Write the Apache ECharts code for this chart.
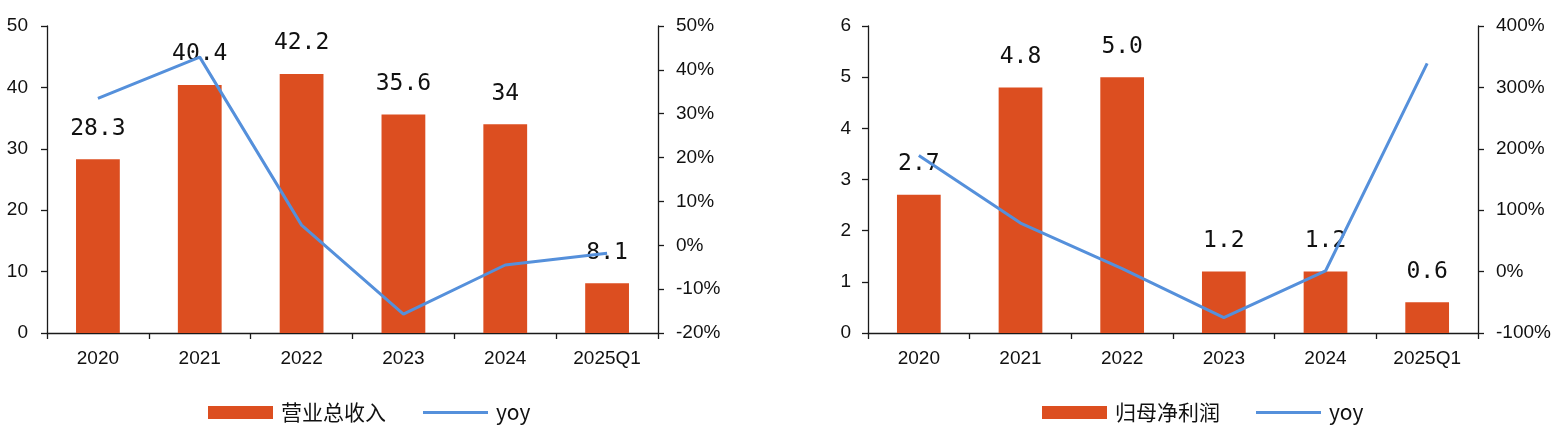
<!DOCTYPE html>
<html>
<head>
<meta charset="utf-8">
<script src="https://cdn.jsdelivr.net/npm/echarts@6/dist/echarts.min.js"></script>
<style>
html,body{margin:0;padding:0;background:#fff;}
#c{width:1556px;height:434px;}
</style>
</head>
<body>
<div id="c"></div>
<script>
const categories = ['2020', '2021', '2022', '2023', '2024', '2025Q1'];
const revenue = [28.3, 40.4, 42.2, 35.6, 34, 8.1];
const revenueYoy = [33.5, 42.9, 4.6, -15.7, -4.5, -1.8];
const netProfit = [2.7, 4.8, 5.0, 1.2, 1.2, 0.6];
const netProfitYoy = [189, 79, 5, -75, 1, 339];
const revenueName = '营业总收入';
const profitName = '归母净利润';
const yoyName = 'yoy';

const BAR = '#DC4E20';
const LINE = '#5590DB';
const AX = '#1a1a1a';
const FONT = '"Liberation Sans", Arial, sans-serif';
const LINE_ICON = 'path://M0,0H65V3H0Z';

function xAxisCfg(gridIndex) {
  return {
    type: 'category', gridIndex, data: categories,
    axisLine: { show: true, onZero: false, lineStyle: { color: AX, width: 1.3 } },
    axisTick: { show: true, length: 6, lineStyle: { color: AX, width: 1.3 } },
    axisLabel: { color: '#111', fontSize: 19, fontFamily: FONT, margin: 16 }
  };
}
function yAxisCfg(gridIndex, position, min, max, interval, fmt, margin) {
  return {
    type: 'value', gridIndex, position, min, max, interval,
    splitLine: { show: false },
    axisLine: { show: true, onZero: false, lineStyle: { color: AX, width: 1.3 } },
    axisTick: { show: true, length: 6, lineStyle: { color: AX, width: 1.3 } },
    axisLabel: { color: '#111', fontSize: 19, fontFamily: FONT, margin, formatter: fmt }
  };
}
const labelStyle = {
  show: true, position: 'top', distance: 19, color: '#111',
  fontSize: 23, fontFamily: '"DejaVu Sans Mono", monospace'
};
const legendText = { fontSize: 21, color: '#111', fontFamily: '"Noto Sans CJK SC", sans-serif', padding: [0, 0, 0, 3] };

const option = {
  animation: false,
  backgroundColor: '#fff',
  grid: [
    { left: 47, right: 898, top: 26, bottom: 101 },
    { left: 868, right: 78, top: 26, bottom: 101 }
  ],
  xAxis: [xAxisCfg(0), xAxisCfg(1)],
  yAxis: [
    yAxisCfg(0, 'left', 0, 50, 10, '{value}', 19),
    yAxisCfg(0, 'right', -20, 50, 10, '{value}%', 18),
    yAxisCfg(1, 'left', 0, 6, 1, '{value}', 17),
    yAxisCfg(1, 'right', -100, 400, 100, '{value}%', 18)
  ],
  legend: [
    {
      left: 203, top: 397, itemWidth: 65, itemHeight: 13, itemGap: 37,
      textStyle: legendText,
      data: [{ name: revenueName, icon: 'rect' }, { name: yoyName, icon: LINE_ICON }]
    },
    {
      left: 1037, top: 397, itemWidth: 65, itemHeight: 13, itemGap: 36,
      textStyle: legendText,
      data: [{ name: profitName, icon: 'rect' }, { name: yoyName, icon: LINE_ICON }]
    }
  ],
  series: [
    {
      name: revenueName, type: 'bar', xAxisIndex: 0, yAxisIndex: 0,
      data: revenue, barWidth: '43%', itemStyle: { color: BAR },
      label: Object.assign({}, labelStyle, { formatter: p => String(p.value) })
    },
    {
      name: yoyName, type: 'line', xAxisIndex: 0, yAxisIndex: 1,
      data: revenueYoy, symbol: 'none', z: 5,
      lineStyle: { color: LINE, width: 3 }, itemStyle: { color: LINE }
    },
    {
      name: profitName, type: 'bar', xAxisIndex: 1, yAxisIndex: 2,
      data: netProfit, barWidth: '43%', itemStyle: { color: BAR },
      label: Object.assign({}, labelStyle, { formatter: p => p.value.toFixed(1) })
    },
    {
      name: yoyName, type: 'line', xAxisIndex: 1, yAxisIndex: 3,
      data: netProfitYoy, symbol: 'none', z: 5,
      lineStyle: { color: LINE, width: 3 }, itemStyle: { color: LINE }
    }
  ]
};
const chart = echarts.init(document.getElementById('c'), null, { renderer: 'canvas' });
chart.setOption(option);
</script>
</body>
</html>
